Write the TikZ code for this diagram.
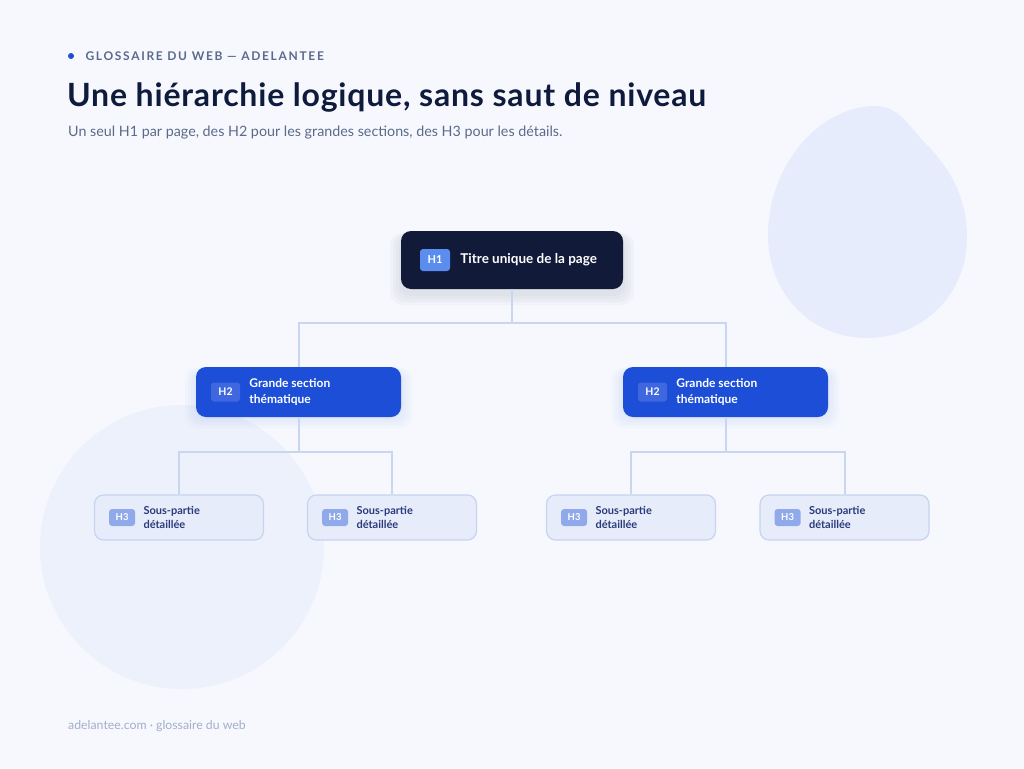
\documentclass[tikz,border=0pt]{standalone}
\usepackage{fontspec}
\setmainfont{Lato}
\usetikzlibrary{positioning}
\definecolor{bg}{HTML}{F6F8FD}
\definecolor{blobA}{HTML}{E6ECFB}
\definecolor{blobB}{HTML}{EDF1FB}
\definecolor{navy}{HTML}{111A38}
\definecolor{royal}{HTML}{1D4ED8}
\definecolor{eyebrow}{HTML}{5B6B8C}
\definecolor{titlec}{HTML}{0F1B3D}
\definecolor{subc}{HTML}{5A6A8A}
\definecolor{linec}{HTML}{C9D6F2}
\definecolor{h3fill}{HTML}{E6ECFA}
\definecolor{h3border}{HTML}{C6D4F2}
\definecolor{h3badge}{HTML}{8FA9EA}
\definecolor{h3text}{HTML}{2A3B7A}
\definecolor{h1badge}{HTML}{5B8DEF}
\definecolor{h2badge}{HTML}{3F67E0}
\definecolor{footc}{HTML}{A3AECB}
\tikzset{
  conn/.style={draw=linec, line width=2pt},
  hone/.style={fill=navy, rounded corners=10pt, minimum width=222pt, minimum height=58pt, inner sep=0pt},
  htwo/.style={fill=royal, rounded corners=10pt, minimum width=205pt, minimum height=50pt, inner sep=0pt},
  hthree/.style={fill=h3fill, draw=h3border, line width=1.2pt, rounded corners=9pt, minimum width=169pt, minimum height=45pt, inner sep=0pt},
  badge/.style={rounded corners=3pt, inner sep=0pt, font=\bfseries, text=white},
}
\begin{document}
\begin{tikzpicture}[x=1pt,y=-1pt]
\fill[bg] (0,0) rectangle (1024,768);
\useasboundingbox (0,0) rectangle (1024,768);
% blobs
\fill[blobA] (875,106) .. controls (900,106) and (910,128) .. (925,143) .. controls (952,170) and (967,200) .. (967,238) .. controls (967,295) and (922,338) .. (867,338) .. controls (812,338) and (768,295) .. (768,235) .. controls (768,165) and (820,106) .. (875,106) -- cycle;
\fill[blobB] (182,547) circle (142);
% header
\fill[royal] (71,56) circle (3);
\node[anchor=west, text=eyebrow, font=\bfseries\fontsize{12}{14}\selectfont\addfontfeatures{LetterSpace=14}] (eyebrow) at (82,56) {GLOSSAIRE DU WEB — ADELANTEE};
\node[anchor=west, text=titlec, font=\bfseries\fontsize{32}{36}\selectfont\addfontfeatures{LetterSpace=2.5}, inner sep=0pt] (title) at (67,97) {Une hiérarchie logique, sans saut de niveau};
\node[anchor=west, text=subc, font=\fontsize{14.3}{17}\selectfont, inner sep=0pt] (sub) at (68,133) {Un seul H1 par page, des H2 pour les grandes sections, des H3 pour les détails.};
\node[anchor=west, text=footc, font=\fontsize{12.3}{15}\selectfont, inner sep=0pt] (foot) at (68,726) {adelantee.com · glossaire du web};

% shadows
\foreach \s in {2,5,8,11}{
  \fill[navy, opacity=0.025, rounded corners=12pt] ({401-\s},{236-0.3*\s}) rectangle ({623+\s},{294+\s});
  \fill[royal, opacity=0.025, rounded corners=12pt] ({196-\s},{371-0.3*\s}) rectangle ({401+\s},{417+\s});
  \fill[royal, opacity=0.025, rounded corners=12pt] ({623-\s},{371-0.3*\s}) rectangle ({828+\s},{417+\s});
}
% nodes
\node[hone] (h1) at (512,260) {};
\node[htwo] (h2a) at (298.5,392) {};
\node[htwo] (h2b) at (725.5,392) {};
\node[hthree] (h3a) at (179,517.5) {};
\node[hthree] (h3b) at (392,517.5) {};
\node[hthree] (h3c) at (631,517.5) {};
\node[hthree] (h3d) at (844.5,517.5) {};

% connectors
\draw[conn] (h1.south) -- ++(0,34) -| (h2a.north);
\draw[conn] (h1.south) -- ++(0,34) -| (h2b.north);
\draw[conn] (h2a.south) -- ++(0,35) -| (h3a.north);
\draw[conn] (h2a.south) -- ++(0,35) -| (h3b.north);
\draw[conn] (h2b.south) -- ++(0,35) -| (h3c.north);
\draw[conn] (h2b.south) -- ++(0,35) -| (h3d.north);

% H1 content
\node[badge, fill=h1badge, minimum width=30pt, minimum height=22pt, font=\bfseries\fontsize{11}{13}\selectfont, anchor=west] (b1) at ([xshift=19pt]h1.west) {H1};
\node[anchor=west, text=white, font=\bfseries\fontsize{13.5}{16}\selectfont, inner sep=0pt] (t1) at ([xshift=10pt]b1.east) {Titre unique de la page};

% H2 content
\foreach \n in {h2a,h2b}{
  \node[badge, fill=h2badge, minimum width=29pt, minimum height=19pt, font=\bfseries\fontsize{10.5}{12}\selectfont, anchor=west] (b\n) at ([xshift=15pt]\n.west) {H2};
  \node[anchor=west, text=white, align=left, font=\bfseries\fontsize{12}{15.5}\selectfont, inner sep=0pt] (t\n) at ([xshift=9pt]b\n.east) {Grande section\\thématique};
}
% H3 content
\foreach \n in {h3a,h3b,h3c,h3d}{
  \node[badge, fill=h3badge, minimum width=26pt, minimum height=17pt, font=\bfseries\fontsize{9.5}{11}\selectfont, anchor=west] (b\n) at ([xshift=15pt]\n.west) {H3};
  \node[anchor=west, text=h3text, align=left, font=\bfseries\fontsize{11}{14.5}\selectfont, inner sep=0pt] (t\n) at ([xshift=8pt]b\n.east) {Sous-partie\\détaillée};
}
\end{tikzpicture}
\end{document}
